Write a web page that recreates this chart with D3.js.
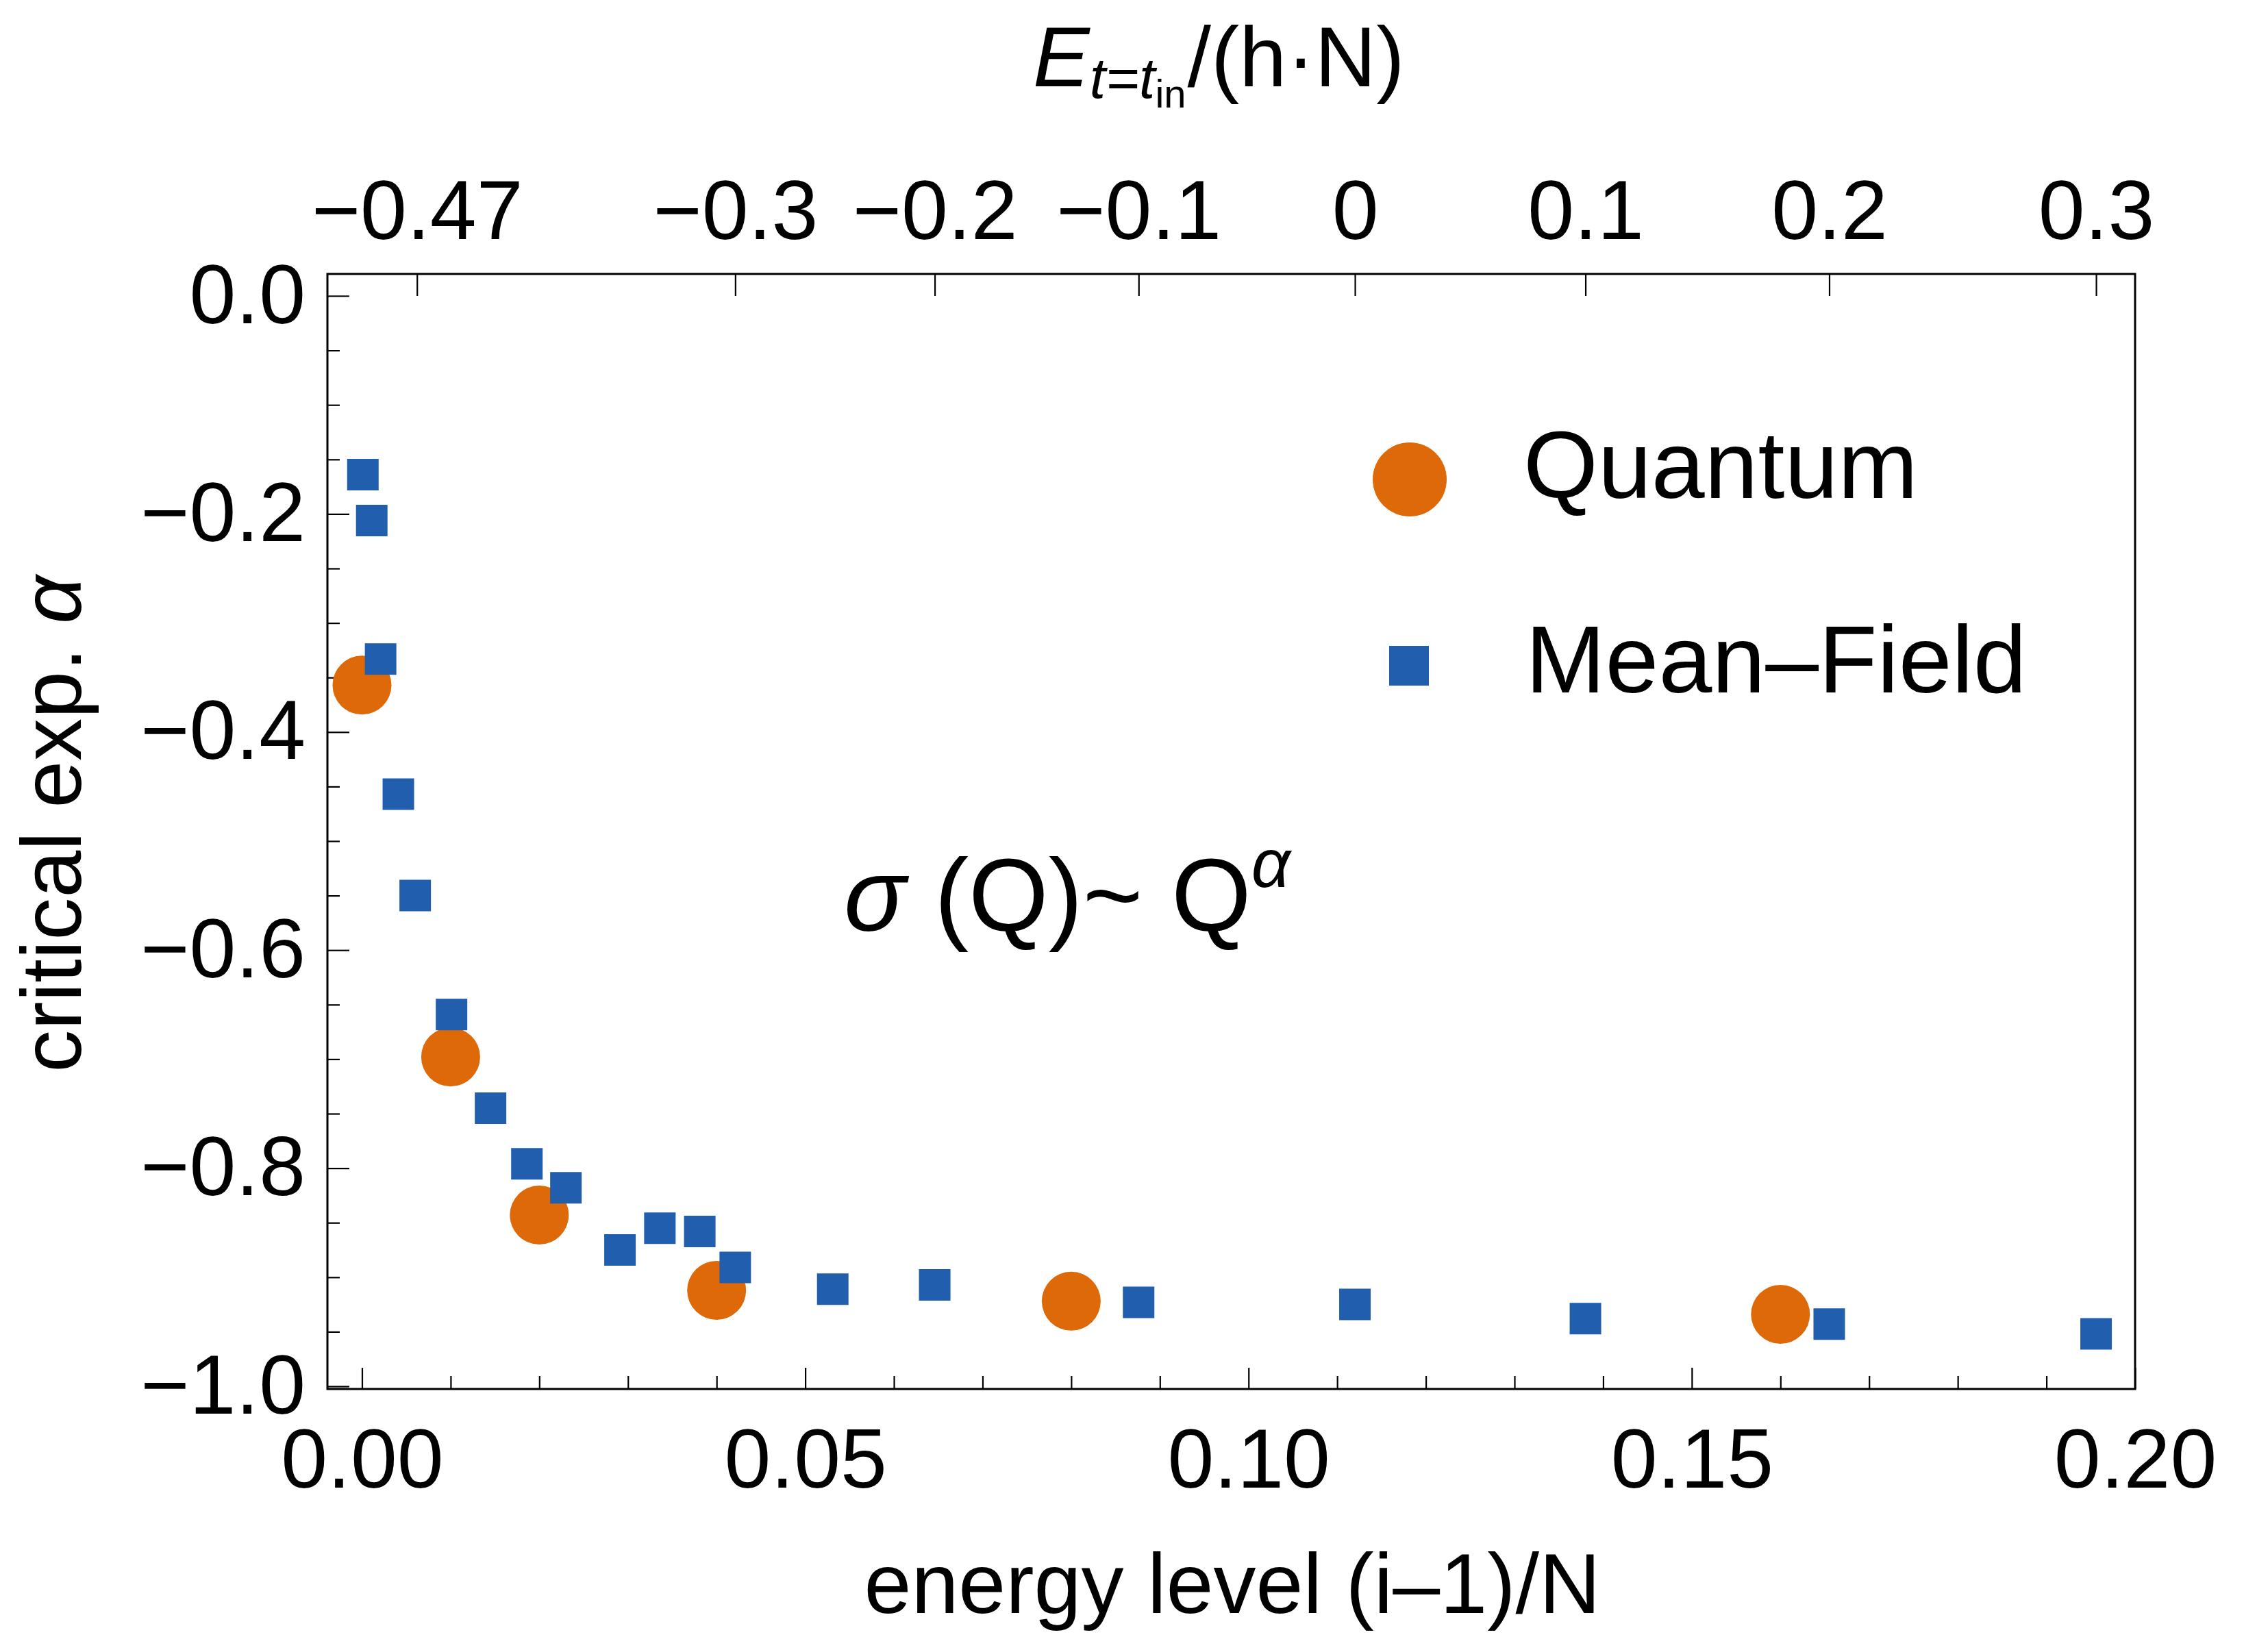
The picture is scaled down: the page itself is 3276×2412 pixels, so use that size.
<!DOCTYPE html>
<html>
<head>
<meta charset="utf-8">
<script src="https://cdn.jsdelivr.net/npm/d3@7"></script>
<style>
  body { margin: 0; background: #fff; }
  text { font-family: "Liberation Sans", Arial, Helvetica, sans-serif; fill: #000; }
</style>
</head>
<body>
<svg id="chart"></svg>
<script>
const width = 3276;
const height = 2412;
const frame = { left: 478, right: 3117, top: 400, bottom: 2028 };

// data
const quantumX = [0, 0.01, 0.02, 0.04, 0.08, 0.16];
const quantumY = [-0.357, -0.698, -0.843, -0.912, -0.922, -0.934];

const meanFieldX = [0.0001, 0.0011, 0.0021, 0.0041, 0.0060, 0.0101, 0.0145, 0.0186, 0.0230, 0.0291,
                    0.0336, 0.0381, 0.0421, 0.0531, 0.0646, 0.0876, 0.1120, 0.1380, 0.1655, 0.1956];
const meanFieldY = [-0.164, -0.206, -0.333, -0.457, -0.550, -0.659, -0.745, -0.796, -0.818, -0.875,
                    -0.855, -0.858, -0.891, -0.911, -0.907, -0.923, -0.925, -0.938, -0.943, -0.952];

const bottomTicks = [0, 0.05, 0.10, 0.15, 0.20];
const bottomMinor = d3.range(0, 0.2001, 0.01).filter(v => Math.abs(v * 20 - Math.round(v * 20)) > 1e-6);
const leftTicks = [0, -0.2, -0.4, -0.6, -0.8, -1.0];
const leftMinor = d3.range(0, -1.0001, -0.05).filter(v => Math.abs(v * 5 - Math.round(v * 5)) > 1e-6);

// top axis: energy labels placed at energy-level positions
const topTickLabels = ["\u22120.47", "\u22120.3", "\u22120.2", "\u22120.1", "0", "0.1", "0.2", "0.3"];
const topTickAt = [0.0062, 0.0421, 0.0646, 0.0876, 0.1120, 0.1380, 0.1655, 0.1956];

const orange = "#dd6909";
const blue = "#215eae";

const svg = d3.select("#chart")
  .attr("width", width)
  .attr("height", height)
  .attr("viewBox", `0 0 ${width} ${height}`);

svg.append("rect").attr("width", width).attr("height", height).attr("fill", "#fff");

const x = d3.scaleLinear().domain([-0.0039, 0.2]).range([frame.left, frame.right]);
const y = d3.scaleLinear().domain([0.0201, -1.0025]).range([frame.top, frame.bottom]);

function styleAxis(g, fontSize) {
  g.select(".domain").remove();
  g.selectAll(".tick line").attr("stroke", "#000").attr("stroke-width", 2.2);
  g.selectAll(".tick text")
    .attr("font-family", "'Liberation Sans', Arial, sans-serif")
    .attr("font-size", fontSize)
    .attr("fill", "#000");
}

// bottom axis
svg.append("g")
  .attr("transform", `translate(0,${frame.bottom})`)
  .call(d3.axisBottom(x).tickValues(bottomMinor).tickSize(-19).tickFormat(""))
  .call(g => styleAxis(g, 0));
svg.append("g")
  .attr("transform", `translate(0,${frame.bottom})`)
  .call(d3.axisBottom(x).tickValues(bottomTicks).tickSize(-31).tickPadding(57).tickFormat(d3.format(".2f")))
  .call(g => styleAxis(g, 122));

// left axis
svg.append("g")
  .attr("transform", `translate(${frame.left},0)`)
  .call(d3.axisLeft(y).tickValues(leftMinor).tickSize(-18).tickFormat(""))
  .call(g => styleAxis(g, 0));
svg.append("g")
  .attr("transform", `translate(${frame.left},0)`)
  .call(d3.axisLeft(y).tickValues(leftTicks).tickSize(-32).tickPadding(32).tickFormat(d3.format(".1f")))
  .call(g => styleAxis(g, 122));

// top axis
svg.append("g")
  .attr("transform", `translate(0,${frame.top})`)
  .call(d3.axisTop(x).tickValues(topTickAt).tickSize(-32).tickPadding(51)
    .tickFormat((d, i) => topTickLabels[i]))
  .call(g => styleAxis(g, 122));

// frame
svg.append("rect")
  .attr("x", frame.left).attr("y", frame.top)
  .attr("width", frame.right - frame.left).attr("height", frame.bottom - frame.top)
  .attr("fill", "none").attr("stroke", "#000").attr("stroke-width", 3);

// points
const quantum = quantumX.map((v, i) => ({ x: v, y: quantumY[i] }));
const meanField = meanFieldX.map((v, i) => ({ x: v, y: meanFieldY[i] }));

svg.append("g").selectAll("circle")
  .data(quantum)
  .join("circle")
  .attr("cx", d => x(d.x))
  .attr("cy", d => y(d.y))
  .attr("r", 43)
  .attr("fill", orange);

svg.append("g").selectAll("path")
  .data(meanField)
  .join("path")
  .attr("transform", d => `translate(${x(d.x)},${y(d.y)})`)
  .attr("d", d3.symbol(d3.symbolSquare, 46 * 46))
  .attr("fill", blue);

// legend
const legend = svg.append("g");
legend.append("circle").attr("cx", 2058).attr("cy", 700).attr("r", 54).attr("fill", orange);
legend.append("path")
  .attr("transform", "translate(2057,972)")
  .attr("d", d3.symbol(d3.symbolSquare, 58 * 58))
  .attr("fill", blue);
legend.append("text").attr("x", 2224).attr("y", 727).attr("font-size", 140).text("Quantum");
legend.append("text").attr("x", 2227).attr("y", 1011).attr("font-size", 140).text("Mean\u2013Field");

// annotation
const ann = svg.append("text").attr("x", 1232).attr("y", 1359).attr("font-size", 150);
ann.append("tspan").attr("font-style", "italic").text("\u03c3");
ann.append("tspan").text(" (Q)~ Q");
ann.append("tspan").attr("font-style", "italic").attr("font-size", 100).attr("dy", -64).text("\u03b1");

// axis titles
svg.append("text")
  .attr("x", 1799).attr("y", 2355)
  .attr("text-anchor", "middle")
  .attr("font-size", 124)
  .text("energy level (i\u20131)/N");

const yTitle = svg.append("text")
  .attr("transform", "translate(118,1203) rotate(-90)")
  .attr("text-anchor", "middle")
  .attr("font-size", 124);
yTitle.append("tspan").text("critical exp. ");
yTitle.append("tspan").attr("font-style", "italic").text("\u03b1");

const topTitle = svg.append("text").attr("x", 1508).attr("y", 126).attr("font-size", 124);
topTitle.append("tspan").attr("font-style", "italic").text("E");
topTitle.append("tspan").attr("font-style", "italic").attr("font-size", 84).attr("dy", 17).text("t=t");
topTitle.append("tspan").attr("font-size", 58).attr("dy", 14).text("in");
topTitle.append("tspan").attr("dx", 2).attr("dy", -31).text("/(h\u00b7N)");
</script>
</body>
</html>
